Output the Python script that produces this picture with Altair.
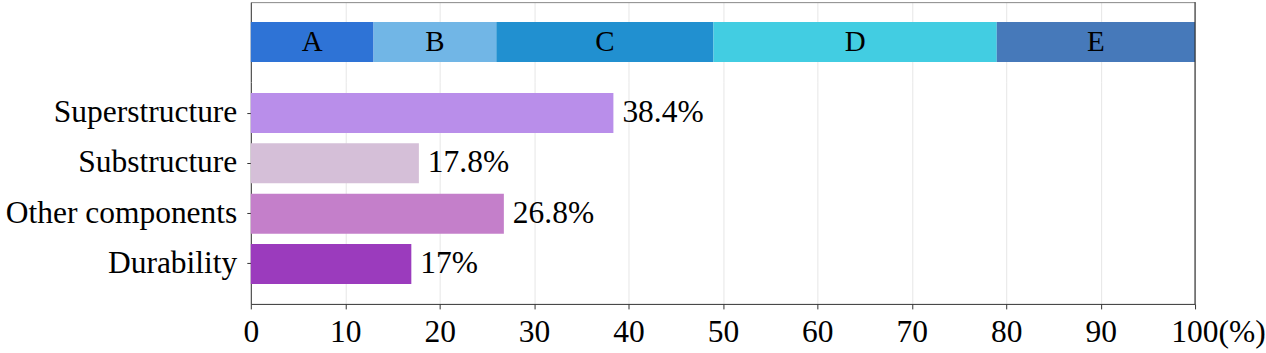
import altair as alt
import pandas as pd

# ---- data ----
seg_names = ["A", "B", "C", "D", "E"]
seg_values = [13, 13, 23, 30, 21]
seg_colors = ["#2e73d6", "#71b6e6", "#2190d0", "#42cde2", "#4679ba"]

categories = ["Superstructure", "Substructure", "Other components", "Durability"]
values = [38.4, 17.8, 26.8, 17]
bar_colors = ["#b98eea", "#d5bfd8", "#c47fca", "#9b3bbd"]

x_ticks = [0, 10, 20, 30, 40, 50, 60, 70, 80, 90, 100]

FONT = "Liberation Serif"
FS = 31.5
W = 945
H_TOP = 80
H_BOT = 222
DARK = "#333333"
GRID = "#e6e6e6"

seg_df = pd.DataFrame({"name": seg_names, "value": seg_values,
                       "order": list(range(len(seg_names))), "row": ["mix"] * len(seg_names)})
bar_df = pd.DataFrame({"category": categories, "value": values})
rule_df = pd.DataFrame({"v": [100]})

x_scale = alt.Scale(domain=[0, 100], nice=False, zero=True)

top_x_axis = alt.Axis(orient="top", labels=False, ticks=False, domain=True,
                      domainColor="#888888", grid=True, gridColor=GRID,
                      values=x_ticks, title=None)
top_y = alt.Y("row:N", title=None,
              scale=alt.Scale(paddingInner=0, paddingOuter=0.5),
              axis=alt.Axis(labels=False, ticks=False, domain=True, domainColor=DARK,
                            minExtent=251, maxExtent=251, grid=False))

top_base = alt.Chart(seg_df).transform_stack(
    stack="value", as_=["x0", "x1"], groupby=["row"],
    sort=[alt.SortField("order", order="ascending")]
).transform_calculate(mid="(datum.x0 + datum.x1) / 2")

top_bars = top_base.mark_bar().encode(
    x=alt.X("x0:Q", scale=x_scale, axis=top_x_axis),
    x2="x1:Q",
    y=top_y,
    color=alt.Color("name:N", scale=alt.Scale(domain=seg_names, range=seg_colors), legend=None),
)
top_text = top_base.mark_text(fontSize=29, color="black", baseline="middle", align="center").encode(
    x=alt.X("mid:Q", scale=x_scale, axis=top_x_axis),
    y=top_y,
    text="name:N",
)
top_rule = alt.Chart(rule_df).mark_rule(color=DARK, strokeWidth=1.2).encode(
    x=alt.X("v:Q", scale=x_scale, axis=top_x_axis),
)
top = alt.layer(top_bars, top_text, top_rule).properties(width=W, height=H_TOP)

bot_x_axis = alt.Axis(
    values=x_ticks, title=None, labelFontSize=FS, labelColor="black",
    labelFlush=False, labelOverlap=False, tickSize=5, labelPadding=8,
    grid=True, gridColor=GRID, domainColor=DARK, tickColor=DARK,
    labelExpr="datum.value == 100 ? '100(%)' : datum.label",
    labelOffset={"condition": {"test": "datum.value == 100", "value": 23}, "value": 0},
)
bot_y = alt.Y("category:N", title=None,
              scale=alt.Scale(domain=categories, paddingInner=0.205, paddingOuter=0.308, align=0.355),
              axis=alt.Axis(labelFontSize=FS, labelColor="black", labelPadding=10, tickSize=4,
                            tickColor=DARK, domainColor=DARK, minExtent=251, maxExtent=251,
                            labelLimit=400, grid=False))

bot_bars = alt.Chart(bar_df).mark_bar().encode(
    x=alt.X("value:Q", scale=x_scale, axis=bot_x_axis),
    y=bot_y,
    color=alt.Color("category:N", scale=alt.Scale(domain=categories, range=bar_colors), legend=None),
)
bot_text = alt.Chart(bar_df).transform_calculate(
    label="datum.value + '%'"
).mark_text(align="left", baseline="middle", dx=9, fontSize=FS, color="black").encode(
    x=alt.X("value:Q", scale=x_scale, axis=bot_x_axis),
    y=bot_y,
    text="label:N",
)
bot_rule = alt.Chart(rule_df).mark_rule(color=DARK, strokeWidth=1.2).encode(
    x=alt.X("v:Q", scale=x_scale, axis=bot_x_axis),
)
bottom = alt.layer(bot_bars, bot_text, bot_rule).properties(width=W, height=H_BOT)

chart = alt.vconcat(top, bottom, spacing=0, bounds="flush").resolve_scale(
    color="independent"
).properties(
    padding={"left": 0, "top": 1, "right": 0, "bottom": 0}
).configure(font=FONT).configure_view(strokeOpacity=0)

chart.save("out.html", embed_options={"renderer": "svg", "actions": False})
